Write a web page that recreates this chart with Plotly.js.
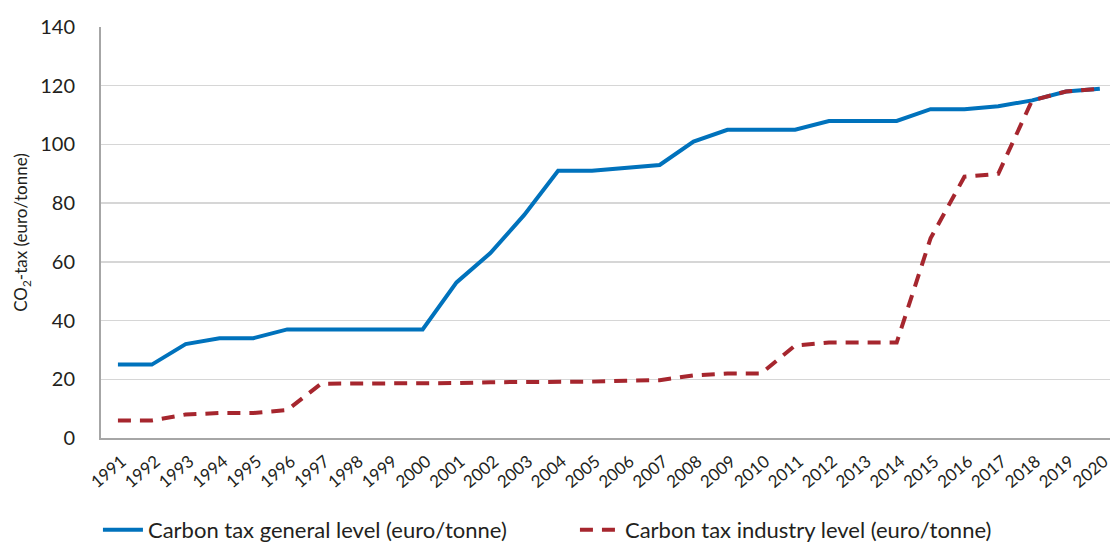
<!DOCTYPE html>
<html>
<head>
<meta charset="utf-8">
<script src="https://cdn.plot.ly/plotly-3.0.1.min.js"></script>
<style>html,body{margin:0;padding:0;background:#fff;}#chart{width:1113px;height:544px;}</style>
</head>
<body>
<div id="chart"></div>
<script>
const years = [1991,1992,1993,1994,1995,1996,1997,1998,1999,2000,2001,2002,2003,2004,2005,2006,2007,2008,2009,2010,2011,2012,2013,2014,2015,2016,2017,2018,2019,2020];
const generalLevel = [25,25,32,34,34,37,37,37,37,37,53,63,76,91,91,92,93,101,105,105,105,108,108,108,112,112,113,115,118,119];
const industryLevel = [6,6,8,8.5,8.5,9.5,18.5,18.5,18.5,18.5,18.7,19,19,19.2,19.2,19.5,19.7,21.3,22,22,31.5,32.5,32.5,32.5,68,89,90,115,118,119];
const seriesNames = ['Carbon tax general level (euro/tonne)','Carbon tax industry level (euro/tonne)'];
const yTitle = 'CO<sub>2</sub>-tax (euro/tonne)';

const fontFam = 'Lato, "Liberation Sans", sans-serif';
const textCol = '#231f20';

const traces = [
  {x: years, y: generalLevel, name: seriesNames[0], type: 'scatter', mode: 'lines',
   line: {color: '#0072bc', width: 4}},
  {x: years, y: industryLevel, name: seriesNames[1], type: 'scatter', mode: 'lines',
   line: {color: '#a6262e', width: 4, dash: '13px,9px'}}
];

const layout = {
  width: 1113, height: 544,
  margin: {l: 101, r: 3, t: 27, b: 106, autoexpand: false},
  paper_bgcolor: '#fff', plot_bgcolor: '#fff',
  font: {family: fontFam, color: textCol},
  showlegend: true,
  legend: {orientation: 'h', xref: 'container', yref: 'container', x: 0.088, xanchor: 'left',
    y: 0.026, yanchor: 'middle',
    font: {size: 22, color: textCol}, entrywidth: 422, entrywidthmode: 'pixels', itemwidth: 40},
  xaxis: {
    range: [1990.5, 2020.3], tickmode: 'array', tickvals: years, ticktext: years.map(String),
    tickangle: -40, tickfont: {size: 17, color: textCol}, ticks: '', showgrid: false,
    showline: true, linecolor: '#a6a6a6', linewidth: 2, zeroline: false, automargin: false,
    ticklabelstandoff: 5, ticklabelshift: 4, ticklabeloverflow: 'allow'
  },
  yaxis: {
    range: [0, 140], dtick: 20, tick0: 0, tickfont: {size: 20, color: textCol},
    showgrid: true, gridcolor: '#d6d6d6', gridwidth: 1.5, zeroline: false, automargin: false,
    showline: true, linecolor: '#a6a6a6', linewidth: 2, ticks: '', ticklabelstandoff: 20,
    title: {text: yTitle, font: {size: 17, color: textCol}, standoff: 8}
  },
  yaxis2: {
    overlaying: 'y', range: [0, 140], dtick: 40, tick0: 0, showticklabels: false, automargin: false,
    showgrid: true, gridcolor: '#ababab', gridwidth: 2.5, zeroline: false, showline: false, ticks: ''
  }
};

Plotly.newPlot('chart', traces, layout, {displayModeBar: false, staticPlot: true});
</script>
</body>
</html>
